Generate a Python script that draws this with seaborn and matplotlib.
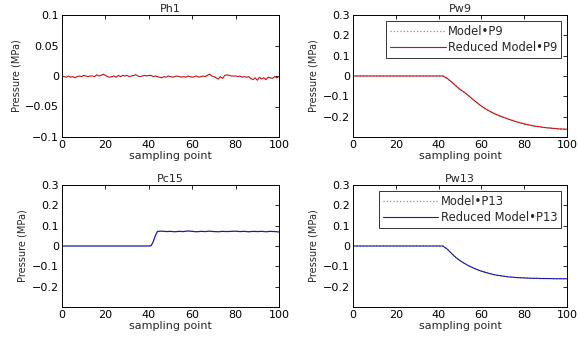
import numpy as np
import pandas as pd
import matplotlib
matplotlib.use("Agg")
import matplotlib.pyplot as plt
import seaborn as sns

# ---------------- data ----------------
x_full = list(range(0, 101))
ph1_values = [0.000, -0.001, -0.002, 0.000, -0.002, -0.001, -0.003, -0.001, 0.000, -0.001,
              0.001, 0.000, -0.001, 0.000, 0.000, -0.001, 0.002, 0.000, 0.001, 0.003,
              0.001, -0.001, -0.002, -0.001, 0.000, -0.002, 0.001, -0.001, 0.001, 0.000,
              0.001, -0.001, 0.000, 0.001, 0.002, 0.000, -0.001, 0.000, 0.001, 0.000,
              0.001, 0.001, -0.001, 0.000, -0.001, -0.002, -0.003, -0.001, -0.002, 0.000,
              -0.001, -0.002, -0.001, 0.000, -0.001, -0.002, -0.001, -0.002, 0.000, -0.001,
              -0.002, -0.001, 0.000, -0.002, -0.001, 0.000, -0.001, 0.001, 0.003, 0.000,
              -0.001, -0.003, -0.005, -0.001, -0.004, 0.001, 0.002, 0.001, 0.000, 0.000,
              0.000, -0.001, 0.000, -0.002, -0.001, -0.002, -0.001, -0.004, -0.006, -0.003,
              -0.007, -0.002, -0.005, -0.003, -0.006, -0.002, -0.003, -0.004, -0.001, -0.003,
              -0.001]

x_curve = [0, 10, 20, 30, 40, 42, 44, 46, 48, 50, 52, 54, 56, 58, 60, 62, 64, 66, 68, 70,
           72, 74, 76, 78, 80, 82, 84, 86, 88, 90, 92, 94, 96, 98, 100]
pw9_model = [0, 0, 0, 0, 0, 0, -0.012, -0.028, -0.047, -0.065, -0.080, -0.097, -0.115,
             -0.132, -0.148, -0.162, -0.174, -0.185, -0.194, -0.202, -0.210, -0.217,
             -0.224, -0.230, -0.236, -0.240, -0.245, -0.248, -0.251, -0.254, -0.256,
             -0.258, -0.260, -0.261, -0.262]
pw9_reduced = [0, 0, 0, 0, 0, 0, -0.012, -0.029, -0.048, -0.066, -0.080, -0.097, -0.115,
               -0.132, -0.148, -0.162, -0.174, -0.185, -0.194, -0.202, -0.210, -0.217,
               -0.224, -0.230, -0.236, -0.240, -0.245, -0.248, -0.251, -0.254, -0.256,
               -0.258, -0.260, -0.261, -0.262]
pw13_model = [0, 0, 0, 0, 0, 0, -0.015, -0.035, -0.055, -0.072, -0.085, -0.097, -0.107,
              -0.116, -0.124, -0.130, -0.136, -0.141, -0.145, -0.148, -0.151, -0.153,
              -0.155, -0.156, -0.157, -0.158, -0.159, -0.159, -0.160, -0.160, -0.160,
              -0.161, -0.161, -0.161, -0.161]
pw13_reduced = [0, 0, 0, 0, 0, 0, -0.015, -0.036, -0.056, -0.072, -0.085, -0.097, -0.107,
                -0.116, -0.124, -0.130, -0.136, -0.141, -0.145, -0.148, -0.151, -0.153,
                -0.155, -0.156, -0.157, -0.158, -0.159, -0.159, -0.160, -0.160, -0.160,
                -0.161, -0.161, -0.161, -0.161]

x_pc15 = [0, 10, 20, 30, 40, 41, 42, 43, 44, 46, 48, 50, 52, 54, 56, 58, 60, 62, 64, 66,
          68, 70, 72, 74, 76, 78, 80, 82, 84, 86, 88, 90, 92, 94, 96, 98, 100]
pc15_values = [0, 0, 0, 0, 0, 0.001, 0.020, 0.050, 0.072, 0.073, 0.071, 0.072, 0.070,
               0.072, 0.071, 0.074, 0.072, 0.070, 0.072, 0.071, 0.073, 0.071, 0.070,
               0.072, 0.071, 0.072, 0.073, 0.071, 0.072, 0.070, 0.072, 0.071, 0.072,
               0.070, 0.072, 0.071, 0.069]

titles = ["Ph1", "Pw9", "Pc15", "Pw13"]
xticks = [0, 20, 40, 60, 80, 100]
yticks_small = [-0.1, -0.05, 0, 0.05, 0.1]
ytick_small_labels = ["\u22120.1", "\u22120.05", "0", "0.05", "0.1"]
yticks_big = [-0.2, -0.1, 0, 0.1, 0.2, 0.3]
ytick_big_labels = ["\u22120.2", "\u22120.1", "0", "0.1", "0.2", "0.3"]

# ---------------- style ----------------
sns.set_style("white")
plt.rcParams['font.family'] = ['DejaVu Sans']
plt.rcParams['xtick.direction'] = 'in'
plt.rcParams['ytick.direction'] = 'in'

fig = plt.figure(figsize=(5.79, 3.40), dpi=100)
W, H = 579, 340
def pos(l, t, r, b):
    return [l / W, 1 - b / H, (r - l) / W, (b - t) / H]

axs = [fig.add_axes(pos(62, 15, 279, 137)),
       fig.add_axes(pos(353, 15, 567, 137)),
       fig.add_axes(pos(62, 185, 279, 307)),
       fig.add_axes(pos(353, 185, 567, 307))]

red = "#c81010"
blue = "#1a1aa8"
dotc = "#909090"

# Ph1
df = pd.DataFrame({"x": x_full, "y": ph1_values})
sns.lineplot(data=df, x="x", y="y", ax=axs[0], color=red, lw=0.8)

# Pw9
df = pd.DataFrame({"x": x_curve, "m": pw9_model, "r": pw9_reduced})
sns.lineplot(data=df, x="x", y="m", ax=axs[1], color=dotc, lw=0.9, linestyle=":",
             label="Model\u2022P9")
sns.lineplot(data=df, x="x", y="r", ax=axs[1], color=red, lw=0.8,
             label="Reduced Model\u2022P9")

# Pc15
df = pd.DataFrame({"x": x_pc15, "y": pc15_values})
sns.lineplot(data=df, x="x", y="y", ax=axs[2], color=blue, lw=0.9)

# Pw13
df = pd.DataFrame({"x": x_curve, "m": pw13_model, "r": pw13_reduced})
sns.lineplot(data=df, x="x", y="m", ax=axs[3], color=dotc, lw=0.9, linestyle=":",
             label="Model\u2022P13")
sns.lineplot(data=df, x="x", y="r", ax=axs[3], color=blue, lw=0.8,
             label="Reduced Model\u2022P13")

for i, ax in enumerate(axs):
    ax.set_xlim(0, 100)
    ax.set_xticks(xticks)
    ax.set_xticklabels([str(t) for t in xticks], fontsize=8)
    if i == 0:
        ax.set_ylim(-0.1, 0.1)
        ax.set_yticks(yticks_small)
        ax.set_yticklabels(ytick_small_labels, fontsize=8)
    else:
        ax.set_ylim(-0.3, 0.3)
        ax.set_yticks(yticks_big)
        ax.set_yticklabels(ytick_big_labels, fontsize=8)
    ax.set_title(titles[i], fontsize=8, pad=2)
    ax.set_xlabel("sampling point", fontsize=8, labelpad=1)
    ax.set_ylabel("Pressure (MPa)", fontsize=7,
                  family=['Liberation Sans Narrow', 'DejaVu Sans'], labelpad=3)
    ax.tick_params(axis='both', which='both', top=True, right=True, length=3,
                   width=0.6, pad=2, colors='black')
    for s in ax.spines.values():
        s.set_color('black')
        s.set_linewidth(0.7)

for ax in (axs[1], axs[3]):
    leg = ax.legend(loc='upper right', fontsize=8.3, frameon=True, fancybox=False,
                    handlelength=4.8, borderpad=0.35, labelspacing=0.3,
                    handletextpad=0.2, borderaxespad=0.5)
    leg.get_frame().set_edgecolor('black')
    leg.get_frame().set_linewidth(0.7)

fig.savefig("out.png", dpi=100)
